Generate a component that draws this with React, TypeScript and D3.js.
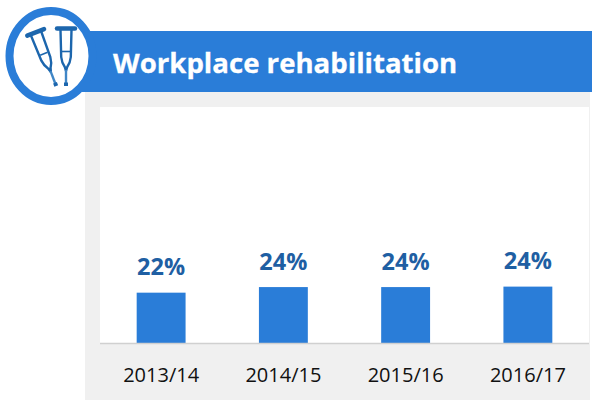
import React from "react";
import * as d3 from "d3";

const title = "Workplace rehabilitation";
const categories = ["2013/14", "2014/15", "2015/16", "2016/17"];
const values = [21.6, 24, 24, 24.2];
const valueLabels = ["22%", "24%", "24%", "24%"];

const BLUE = "#2a7dd8";
const DARK = "#1f5fa3";
const ICON = "#1c66ad";
const FONT = "'Open Sans', 'Noto Sans', sans-serif";

function Crutch({ transform }: { transform: string }) {
  return (
    <g transform={transform} fill="none" stroke={ICON}>
      <path d="M-9 -27.5H9" strokeWidth={4.5} strokeLinecap="round" />
      <path d="M-5.5 -26L-4.8 1Q-4.2 7 -1.2 11L0 15M5.5 -26L4.8 1Q4.2 7 1.2 11L0 15" strokeWidth={2.4} />
      <path d="M-4 -4.5H4" strokeWidth={1.6} />
      <path d="M0 14V27" strokeWidth={2.4} stroke="#3f86c6" />
      <rect x={-2} y={26.5} width={4} height={3.5} fill={ICON} stroke="none" />
    </g>
  );
}

export default function App() {
  const x = d3.scaleBand<string>().domain(categories).range([100, 589]).paddingInner(0.6).paddingOuter(0.3);
  const y = d3.scaleLinear().domain([0, 100]).range([343, 110]);
  return (
    <svg width={595} height={400} style={{ position: "absolute", left: 0, top: 0, display: "block" }} fontFamily={FONT}>
      <rect x={85} y={92} width={505} height={308} fill="#f0f0f0" />
      <rect x={100} y={107} width={489} height={236} fill="#fff" />
      <rect x={50} y={31} width={542} height={61} fill={BLUE} />
      <ellipse cx={51} cy={56} rx={41.5} ry={45} fill="#fff" stroke={BLUE} strokeWidth={8} />
      <Crutch transform="translate(66 56)" />
      <Crutch transform="translate(45.5 58) rotate(-21)" />
      <text x={113} y={73} fill="#fff" stroke="#fff" strokeWidth={0.3} fontSize={27.6} fontWeight={700}>{title}</text>
      {categories.map((c, i) => (
        <g key={c}>
          <rect x={x(c)} y={y(values[i])} width={x.bandwidth()} height={343 - y(values[i])} fill={BLUE} />
          <text x={x(c)! + x.bandwidth() / 2} y={y(values[i]) - 17.5} textAnchor="middle" fill={DARK} fontSize={23.5} fontWeight={700}>
            {valueLabels[i]}
          </text>
          <text x={x(c)! + x.bandwidth() / 2} y={382} textAnchor="middle" fill="#111" fontSize={20}>{c}</text>
        </g>
      ))}
      <line x1={100} x2={589} y1={343.5} y2={343.5} stroke="#d0d0d0" strokeWidth={1.5} />
    </svg>
  );
}
